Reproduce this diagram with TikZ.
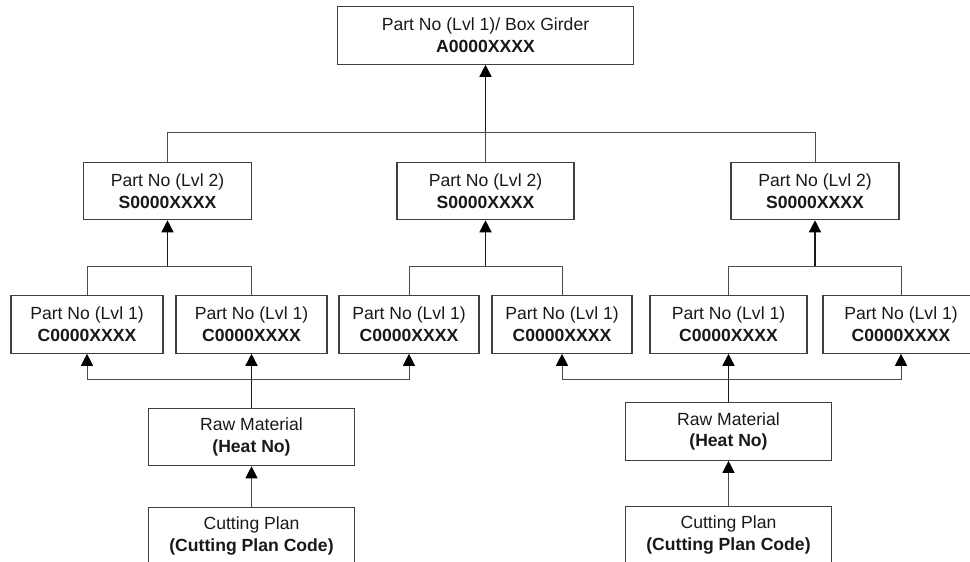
\documentclass[tikz,border=0pt]{standalone}
\usepackage{fontspec}
\setmainfont{Liberation Sans}
\usetikzlibrary{arrows.meta,positioning}

\begin{document}
\begin{tikzpicture}[x=1pt,y=-1pt]
  \useasboundingbox (0,0) rectangle (970,562);
  \clip (0,0) rectangle (970,562);
  \begin{scope}[every node/.style={draw=black!75,line width=1.1pt,rectangle,align=center,inner sep=0pt,
      minimum height=57.5pt,text=black!90,font=\fontsize{17.6}{21.6}\selectfont}]
    % top level
    \node[minimum width=296pt] (girder) at (485.5,35.5) {Part No (Lvl 1)/ Box Girder\\\textbf{A0000XXXX}};
    % level 2
    \node[minimum width=168pt] (sgL) at (167.5,191) {Part No (Lvl 2)\\\textbf{S0000XXXX}};
    \node[minimum width=177pt] (sgM) at (485.5,191) {Part No (Lvl 2)\\\textbf{S0000XXXX}};
    \node[minimum width=168pt] (sgR) at (815,191) {Part No (Lvl 2)\\\textbf{S0000XXXX}};
    % level 1
    \node[minimum width=152pt] (c1) at (87,324.5) {Part No (Lvl 1)\\\textbf{C0000XXXX}};
    \node[minimum width=151pt] (c2) at (251.5,324.5) {Part No (Lvl 1)\\\textbf{C0000XXXX}};
    \node[minimum width=140pt] (c3) at (409,324.5) {Part No (Lvl 1)\\\textbf{C0000XXXX}};
    \node[minimum width=140pt] (c4) at (562,324.5) {Part No (Lvl 1)\\\textbf{C0000XXXX}};
    \node[minimum width=157pt] (c5) at (728.5,324.5) {Part No (Lvl 1)\\\textbf{C0000XXXX}};
    \node[minimum width=156pt] (c6) at (901,324.5) {Part No (Lvl 1)\\\textbf{C0000XXXX}};
    % raw material
    \node[minimum width=206pt] (rawL) at (251.5,437) {Raw Material\\\textbf{(Heat No)}};
    \node[minimum width=206pt] (rawR) at (728.5,431.5) {Raw Material\\\textbf{(Heat No)}};
    % cutting plan
    \node[minimum width=206pt] (cutL) at (251.5,536) {Cutting Plan\\\textbf{(Cutting Plan Code)}};
    \node[minimum width=206pt] (cutR) at (728.5,535) {Cutting Plan\\\textbf{(Cutting Plan Code)}};
  \end{scope}
  \coordinate (topbar) at (485.5,132);
  \coordinate (jL) at (167.5,266);
  \coordinate (jM) at (485.5,266);
  \coordinate (jR) at (815,266);
  \coordinate (bL) at (251.5,379);
  \coordinate (bR) at (728.5,379);
  \begin{scope}[every edge/.style={draw=black!70,line width=0.9pt},
      tip/.style={-{Triangle[length=12pt,width=12pt,color=black]}},
      bold/.style={draw=black!90,line width=1.5pt},
      hv/.style={to path={-| (\tikztotarget)}},
      vh/.style={to path={|- (\tikztotarget)}}]
    \path (sgL.north) edge[vh] (topbar);
    \path (topbar) edge[hv] (sgR.north);
    \path (sgM.north) edge (topbar);
    \path (topbar) edge[bold,tip] (girder.south);
    % level 1 -> level 2
    \path (c1.north) edge[vh] (jL);
    \path (jL) edge[hv] (c2.north);
    \path (jL) edge[bold,tip] (sgL.south);
    \path (c3.north) edge[vh] (jM);
    \path (jM) edge[hv] (c4.north);
    \path (jM) edge[bold,tip] (sgM.south);
    \path (c5.north) edge[vh] (jR);
    \path (jR) edge[hv] (c6.north);
    \path (jR) edge[bold,tip] (sgR.south);
    % raw material -> level 1
    \path (bL) edge[hv,tip] (c1.south);
    \path (bL) edge[hv,tip] (c3.south);
    \path (rawL.north) edge[bold,tip] (c2.south);
    \path (bR) edge[hv,tip] (c4.south);
    \path (bR) edge[hv,tip] (c6.south);
    \path (rawR.north) edge[bold,tip] (c5.south);
    % cutting plan -> raw material
    \path (cutL.north) edge[tip] (rawL.south);
    \path (cutR.north) edge[tip] (rawR.south);
  \end{scope}
\end{tikzpicture}
\end{document}
